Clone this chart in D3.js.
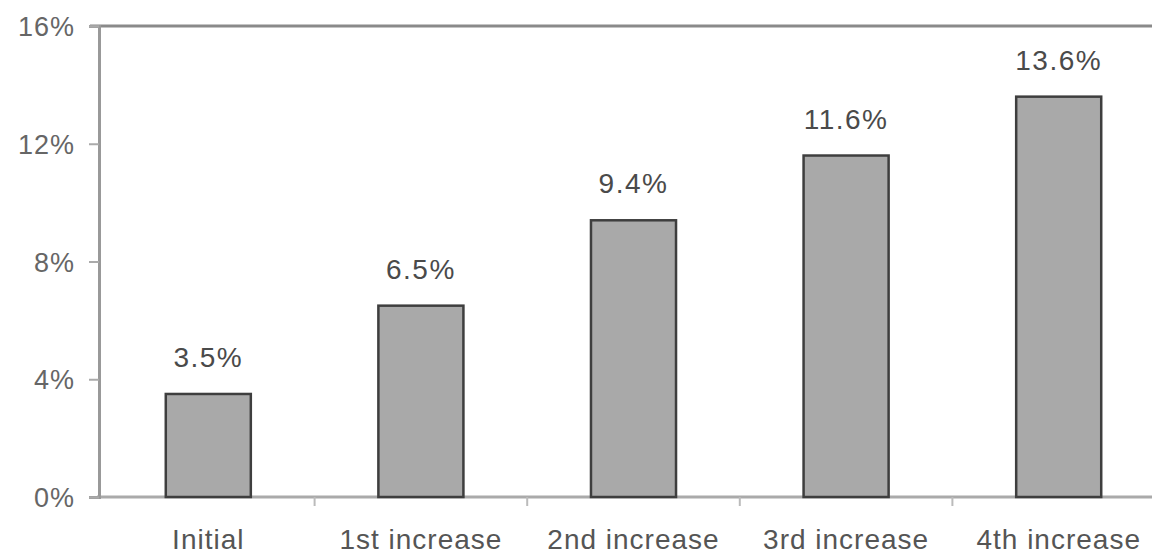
<!DOCTYPE html>
<html><head><meta charset="utf-8">
<script src="https://cdn.jsdelivr.net/npm/d3@7/dist/d3.min.js"></script>
<style>body{margin:0;background:#fff}svg{display:block}</style>
</head><body>
<svg id="c" width="1152" height="556"></svg>
<script>
const categories = ["Initial", "1st increase", "2nd increase", "3rd increase", "4th increase"];
const values = [3.5, 6.5, 9.4, 11.6, 13.6];
const valueLabels = ["3.5%", "6.5%", "9.4%", "11.6%", "13.6%"];
const yTicks = [0, 4, 8, 12, 16];
const yTickLabels = ["0%", "4%", "8%", "12%", "16%"];

const svg = d3.select("#c");
const mLeft = 99, mTop = 26, mBottom = 497;
const bandLeft = 102, bandRight = 1165;
const x = d3.scaleBand().domain(categories).range([bandLeft, bandRight]).paddingInner(0.6).paddingOuter(0.3);
const y = d3.scaleLinear().domain([0, 16]).range([mBottom, mTop]);
const font = "Liberation Sans, Arial, sans-serif";

// top border line
svg.append("line").attr("x1", mLeft - 9).attr("x2", 1152).attr("y1", mTop).attr("y2", mTop)
  .attr("stroke", "#8a8a8a").attr("stroke-width", 3);

// x axis
const bandEdges = d3.range(1, categories.length).map(i => x(categories[i]) - x.step() * x.paddingInner() / 2);
const xAxis = svg.append("g").attr("transform", `translate(0,${mBottom})`)
  .call(d3.axisBottom(x).tickSize(0).tickPadding(32));
xAxis.select(".domain").remove();
xAxis.selectAll(".tick text").attr("font-family", font).attr("font-size", 28).attr("letter-spacing", 1)
  .attr("fill", "#555");
svg.append("line").attr("x1", mLeft - 2).attr("x2", 1152).attr("y1", mBottom).attr("y2", mBottom)
  .attr("stroke", "#aaa").attr("stroke-width", 3);
svg.append("g").selectAll("line").data(bandEdges).join("line")
  .attr("x1", d => d).attr("x2", d => d).attr("y1", mBottom).attr("y2", mBottom + 9)
  .attr("stroke", "#bbb").attr("stroke-width", 2);

// y axis
const yAxis = svg.append("g").attr("transform", `translate(${mLeft},0)`)
  .call(d3.axisLeft(y).tickValues(yTicks).tickFormat((d, i) => yTickLabels[i]).tickSize(10).tickPadding(14));
yAxis.select(".domain").attr("stroke", "#999").attr("stroke-width", 3);
yAxis.selectAll(".tick line").attr("stroke", "#aaa").attr("stroke-width", 2);
yAxis.selectAll(".tick text").attr("font-family", font).attr("font-size", 27).attr("letter-spacing", 1)
  .attr("fill", "#666").attr("dy", "0.36em");

// bars
svg.append("g").selectAll("rect").data(values).join("rect")
  .attr("x", (d, i) => x(categories[i]))
  .attr("width", x.bandwidth())
  .attr("y", d => y(d))
  .attr("height", d => y(0) - y(d))
  .attr("fill", "#a9a9a9").attr("stroke", "#3e3e3e").attr("stroke-width", 2.5);

// value labels
svg.append("g").selectAll("text").data(values).join("text")
  .attr("x", (d, i) => x(categories[i]) + x.bandwidth() / 2)
  .attr("y", d => y(d) - 27)
  .attr("text-anchor", "middle")
  .attr("font-family", font).attr("font-size", 28).attr("letter-spacing", 1.5)
  .attr("fill", "#4a4a4a")
  .text((d, i) => valueLabels[i]);
</script>
</body></html>
